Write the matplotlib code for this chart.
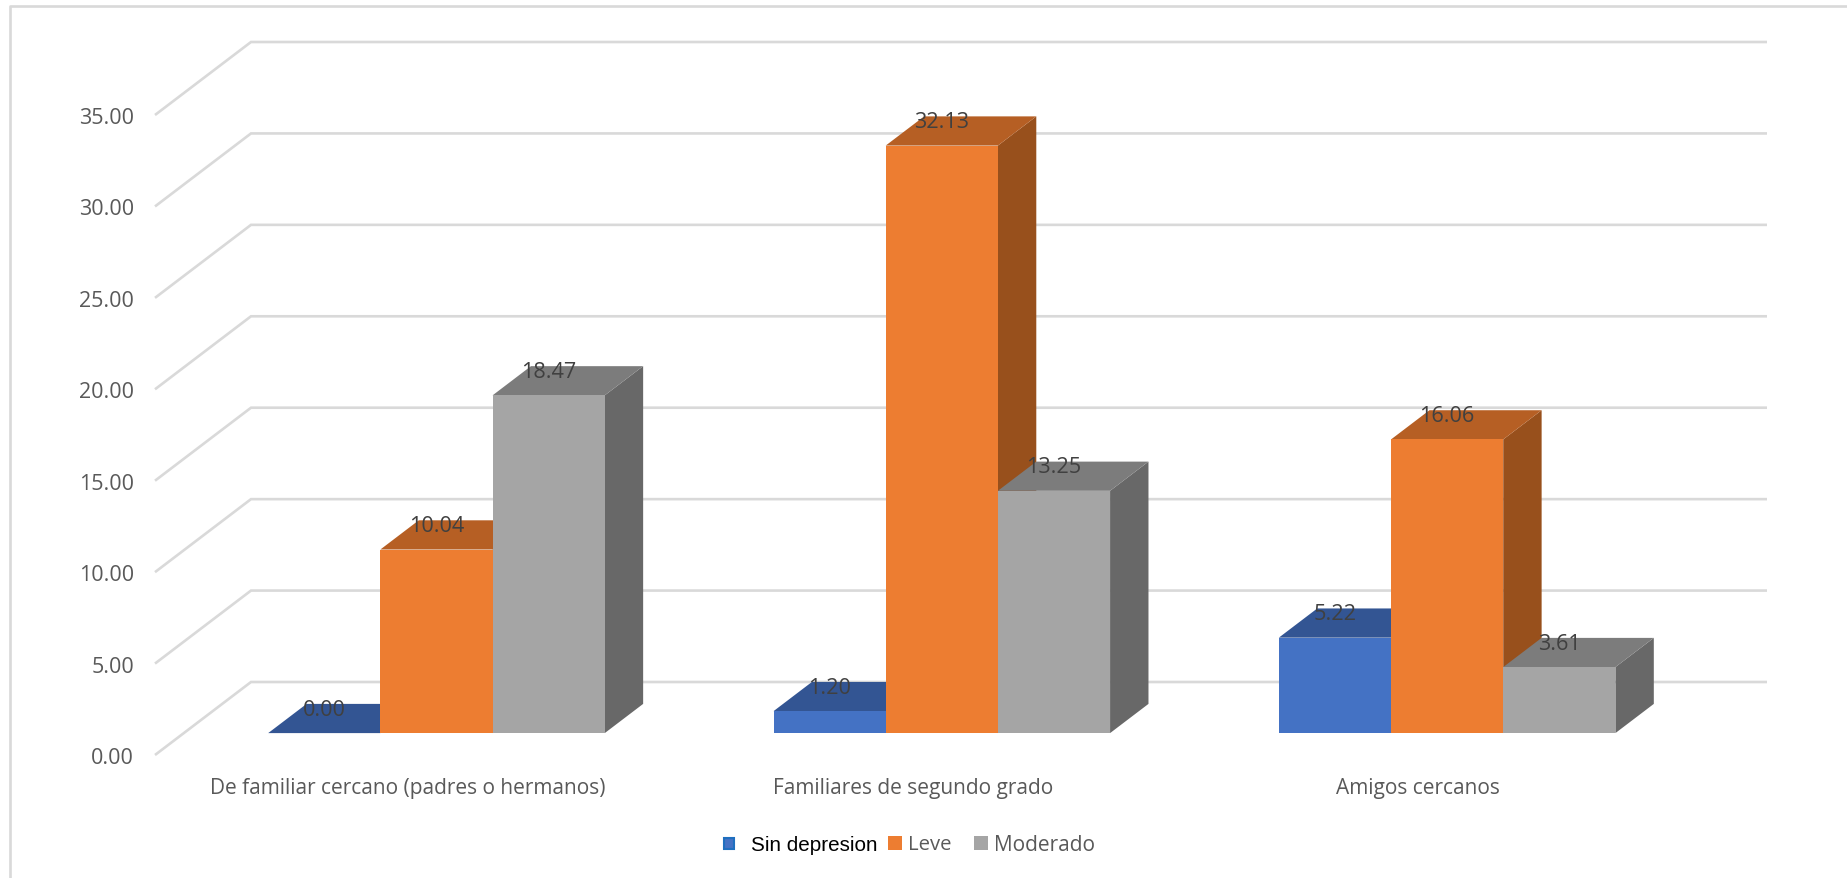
import matplotlib
matplotlib.use('Agg')
import matplotlib.pyplot as plt
from matplotlib.lines import Line2D
from matplotlib.patches import Rectangle

W, H = 1847, 879

categories = ['De familiar cercano (padres o hermanos)', 'Familiares de segundo grado', 'Amigos cercanos']
sin_depresion = [0.00, 1.20, 5.22]
leve = [10.04, 32.13, 16.06]
moderado = [18.47, 13.25, 3.61]
y_ticks = [0, 5, 10, 15, 20, 25, 30, 35]

series_names = ['Sin depresion', 'Leve', 'Moderado']
front_colors = ['#4472C4', '#ED7D31', '#A5A5A5']
top_colors = ['#335593', '#B65F24', '#7C7C7C']
side_colors = ['#2C4A80', '#98501C', '#686868']

GRID = '#D9D9D9'
TEXT = '#595959'
FONT = 'Open Sans'

fig = plt.figure(figsize=(W/100, H/100), dpi=100, facecolor='white')
# axes = front plane of the 3D box
left, right, top, bottom = 155, 1671, 116, 756
ax = fig.add_axes([left/W, 1-bottom/H, (right-left)/W, (bottom-top)/H])
ax.set_xlim(0, 3)
ax.set_ylim(0, 35)
ax.patch.set_alpha(0)
for s in ax.spines.values():
    s.set_visible(False)

# depth of the floor in data units
dx_full = 96/((right-left)/3)
dy_full = 73/((bottom-top)/35)
# where bars sit inside the depth
bar_front = 0.30
bar_depth = 0.40
bar_w = 0.222

for v in y_ticks:
    ax.plot([0, dx_full, 3+dx_full], [v, v+dy_full, v+dy_full], color=GRID, lw=1.9,
            clip_on=False, zorder=1, solid_capstyle='butt', solid_joinstyle='miter')

all_series = [sin_depresion, leve, moderado]
x0 = bar_front*dx_full
y0 = bar_front*dy_full
ddx = bar_depth*dx_full
ddy = bar_depth*dy_full

for i in range(3):
    for j, vals in enumerate(all_series):
        v = vals[i]
        xl = i + 0.5 + (j-1.5)*bar_w + x0
        xr = xl + bar_w
        # side
        ax.fill([xr, xr+ddx, xr+ddx, xr], [y0, y0+ddy, y0+ddy+v, y0+v], color=side_colors[j],
                lw=0, clip_on=False, zorder=2)
        # top
        ax.fill([xl, xr, xr+ddx, xl+ddx], [y0+v, y0+v, y0+v+ddy, y0+v+ddy], color=top_colors[j],
                lw=0, clip_on=False, zorder=2)
        # front
        ax.bar(xl, v, width=bar_w, bottom=y0, align='edge', color=front_colors[j], lw=0,
               clip_on=False, zorder=2)

for i in range(3):
    for j, vals in enumerate(all_series):
        v = vals[i]
        xc = i + 0.5 + (j-1)*bar_w + x0
        ax.annotate('%.2f' % v, (xc, y0+v), xytext=(0, 24), textcoords='offset pixels',
                    ha='center', va='center', fontsize=15.6, color='#404040', family=FONT,
                    annotation_clip=False, zorder=5)

ax.set_yticks(y_ticks)
ax.set_yticklabels(['%.2f' % v for v in y_ticks], fontsize=15.5, color=TEXT, family=FONT)
ax.set_xticks([0.5, 1.5, 2.5])
ax.set_xticklabels(categories, fontsize=15, color=TEXT, family=FONT)
ax.tick_params(axis='y', length=0, pad=15)
ax.tick_params(axis='x', length=0, pad=16)

# outer frame, only top and left are visible
fig.add_artist(Line2D([10/W, 10/W, 1], [0, 1-6.5/H, 1-6.5/H], color=GRID, lw=1.9))

# legend
def swatch(x1, x2, y1, y2, color, edge=None):
    fig.add_artist(Rectangle((x1/W, 1-y2/H), (x2-x1)/W, (y2-y1)/H, transform=fig.transFigure,
                             facecolor=color, edgecolor=edge if edge else color,
                             lw=1.5 if edge else 0))

swatch(723.5, 733.5, 839, 850, front_colors[0], '#1F6FBF')
fig.text(751/W, 1-845.5/H, series_names[0], fontsize=14.9, color='black', family='Liberation Sans',
         ha='left', va='center')
swatch(888, 902, 837, 851, front_colors[1])
fig.text(908/W, 1-845.5/H, series_names[1], fontsize=14.6, color=TEXT, family=FONT, ha='left', va='center')
swatch(974, 988, 837, 851, front_colors[2])
fig.text(994/W, 1-845.5/H, series_names[2], fontsize=15, color=TEXT, family=FONT, ha='left', va='center')

fig.savefig('out.png', dpi=100)
